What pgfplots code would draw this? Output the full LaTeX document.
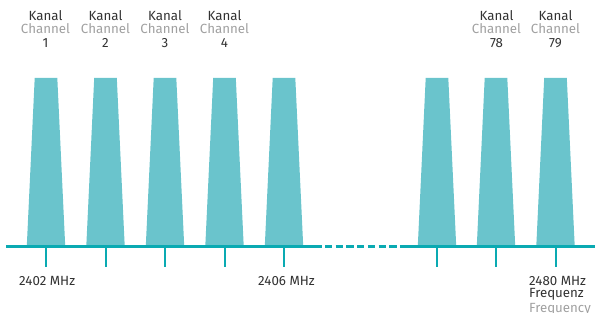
\documentclass[border=0pt]{standalone}
\usepackage{pgfplots}
\pgfplotsset{compat=1.18}
\usepackage{fontspec}
\setmainfont{Fira Sans}
\definecolor{barc}{RGB}{106,196,204}
\definecolor{linec}{RGB}{10,170,178}
\definecolor{dark}{RGB}{50,50,50}
\definecolor{grey}{RGB}{160,160,160}
\tikzset{lbl/.style={font=\fontsize{13.3bp}{15bp}\selectfont, inner sep=0pt}}
\newcommand{\chlabel}[2]{%
  \node[lbl,anchor=base,text=dark] at (axis cs:#1,292.3) {Kanal};
  \node[lbl,anchor=base,text=grey] at (axis cs:#1,279) {Channel};
  \node[lbl,anchor=base,text=dark] at (axis cs:#1,265.7) {#2};
}
\begin{document}
\begin{tikzpicture}
\begin{axis}[
  at={(0,0)}, anchor=south west,
  width=595bp, height=313bp, scale only axis,
  xmin=0, xmax=595, ymin=0, ymax=313,
  hide axis, clip=false,
]
% channel trapezoids (centres 46,105.5,165,224.5,284,437,496,555.5)
\addplot[fill=barc, draw=none] coordinates {(26.8,67) (34.7,235) (57.3,235) (65.2,67)} -- cycle;
\addplot[fill=barc, draw=none] coordinates {(86.3,67) (94.2,235) (116.8,235) (124.7,67)} -- cycle;
\addplot[fill=barc, draw=none] coordinates {(145.8,67) (153.7,235) (176.3,235) (184.2,67)} -- cycle;
\addplot[fill=barc, draw=none] coordinates {(205.3,67) (213.2,235) (235.8,235) (243.7,67)} -- cycle;
\addplot[fill=barc, draw=none] coordinates {(264.8,67) (272.7,235) (295.3,235) (303.2,67)} -- cycle;
\addplot[fill=barc, draw=none] coordinates {(417.8,67) (425.7,235) (448.3,235) (456.2,67)} -- cycle;
\addplot[fill=barc, draw=none] coordinates {(476.8,67) (484.7,235) (507.3,235) (515.2,67)} -- cycle;
\addplot[fill=barc, draw=none] coordinates {(536.3,67) (544.2,235) (566.8,235) (574.7,67)} -- cycle;
% baseline
\addplot[linec, line width=2.3bp] coordinates {(6,66.5) (322,66.5)};
\addplot[linec, line width=2.3bp, dash pattern=on 7.3bp off 3.4bp] coordinates {(325,66.5) (408,66.5)};
\addplot[linec, line width=2.3bp] coordinates {(406,66.5) (595,66.5)};
% ticks
\addplot[linec, line width=2bp, unbounded coords=jump] coordinates {
  (46,66.5) (46,46.3) (46,nan)
  (105.5,66.5) (105.5,46.3) (105.5,nan)
  (165,66.5) (165,46.3) (165,nan)
  (224.5,66.5) (224.5,46.3) (224.5,nan)
  (284,66.5) (284,46.3) (284,nan)
  (437,66.5) (437,46.3) (437,nan)
  (496,66.5) (496,46.3) (496,nan)
  (555.5,66.5) (555.5,46.3)};
% channel labels
\chlabel{45.5}{1}
\chlabel{105.5}{2}
\chlabel{165}{3}
\chlabel{224.5}{4}
\chlabel{496.5}{78}
\chlabel{555.5}{79}
% frequency labels
\node[lbl,anchor=base west,text=dark] at (axis cs:19,27.3) {2402 MHz};
\node[lbl,anchor=base west,text=dark] at (axis cs:258,27.3) {2406 MHz};
\node[lbl,anchor=base west,text=dark] at (axis cs:529,27.3) {2480 MHz};
\node[lbl,anchor=base west,text=dark] at (axis cs:529,15.3) {Frequenz};
\node[lbl,anchor=base west,text=grey] at (axis cs:529,0.8) {Frequency};
\end{axis}
\pgfresetboundingbox
\path (0,0) rectangle (595bp,313bp);
\end{tikzpicture}
\end{document}
